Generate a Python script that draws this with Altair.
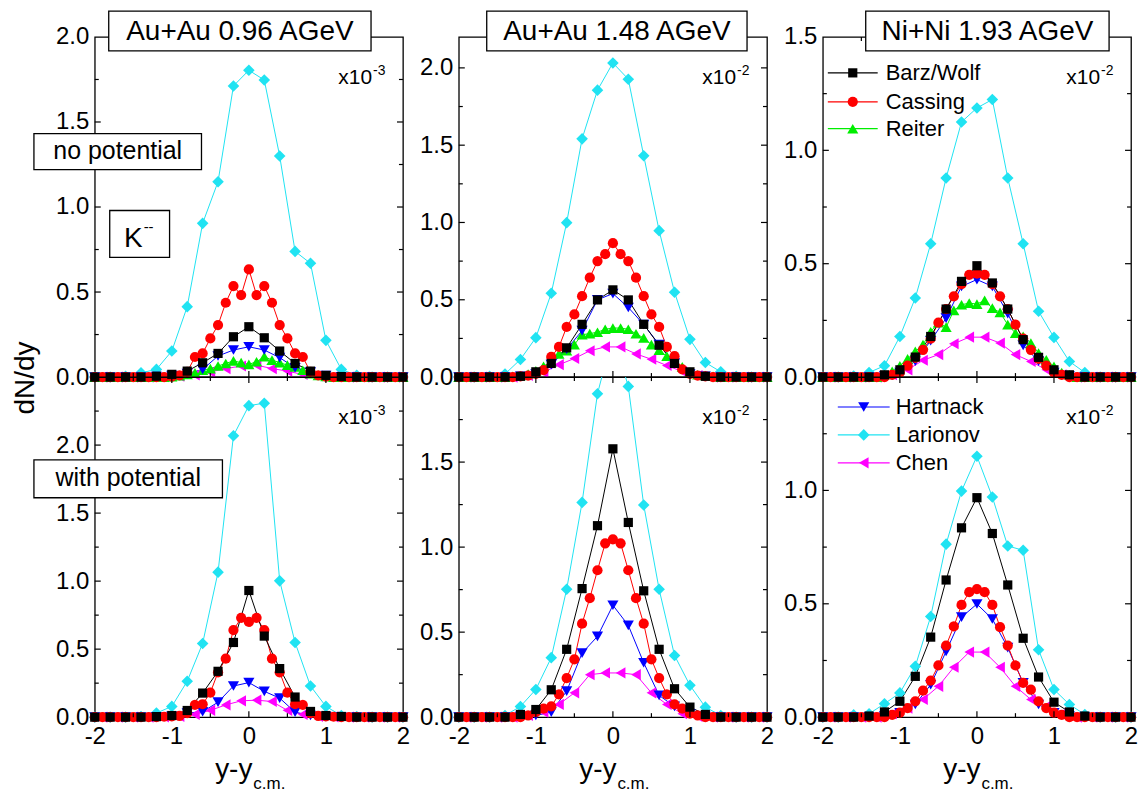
import altair as alt
import pandas as pd

FONT = "Liberation Sans"

# ---------------- rapidity grids ----------------
X_STEP02 = [-2.0, -1.8, -1.6, -1.4, -1.2, -1.0, -0.8, -0.6, -0.4, -0.2, 0.0,
            0.2, 0.4, 0.6, 0.8, 1.0, 1.2, 1.4, 1.6, 1.8, 2.0]
X_STEP01 = [-2.0, -1.9, -1.8, -1.7, -1.6, -1.5, -1.4, -1.3, -1.2, -1.1, -1.0,
            -0.9, -0.8, -0.7, -0.6, -0.5, -0.4, -0.3, -0.2, -0.1, 0.0,
            0.1, 0.2, 0.3, 0.4, 0.5, 0.6, 0.7, 0.8, 0.9, 1.0,
            1.1, 1.2, 1.3, 1.4, 1.5, 1.6, 1.7, 1.8, 1.9, 2.0]
X_ODD = [-1.9, -1.7, -1.5, -1.3, -1.1, -0.9, -0.7, -0.5, -0.3, -0.1,
         0.1, 0.3, 0.5, 0.7, 0.9, 1.1, 1.3, 1.5, 1.7, 1.9]

# ---------------- series meta ----------------
SERIES_NAMES = ["Barz/Wolf", "Cassing", "Reiter", "Hartnack", "Larionov", "Chen"]
SERIES_COLORS = ["#000000", "#ff0000", "#00ee00", "#0000ff", "#20e3f2", "#ff00ff"]
SERIES_SHAPES = ["square", "circle", "triangle-up", "triangle-down", "diamond", "triangle-left"]
SERIES_SIZES = [85, 105, 125, 125, 135, 125]
DRAW_ORDER = ["Larionov", "Chen", "Reiter", "Hartnack", "Cassing", "Barz/Wolf"]
XGRID = {"Barz/Wolf": X_STEP02, "Cassing": X_STEP01, "Reiter": X_STEP01,
         "Hartnack": X_STEP02, "Larionov": X_STEP02, "Chen": X_ODD}

# ---------------- Au+Au 0.96 AGeV, no potential (x10^-3) ----------------
AU096_NOPOT_BARZ = [0, 0, 0, 0, 0.005, 0.016, 0.035, 0.084, 0.139, 0.237, 0.296,
                    0.231, 0.153, 0.08, 0.035, 0.01, 0.003, 0, 0, 0, 0]
AU096_NOPOT_CASSING = [0, 0, 0, 0, 0, 0, 0, 0, 0, 0,
                       0.003, 0.01, 0.03, 0.118, 0.139, 0.227, 0.306, 0.437, 0.535, 0.482,
                       0.633,
                       0.482, 0.535, 0.437, 0.306, 0.227, 0.139, 0.118, 0.03, 0.01, 0.003,
                       0, 0, 0, 0, 0, 0, 0, 0, 0, 0]
AU096_NOPOT_REITER = [0, 0, 0, 0, 0, 0, 0, 0, 0, 0,
                      0.003, 0.008, 0.015, 0.025, 0.04, 0.05, 0.065, 0.08, 0.095, 0.085,
                      0.075,
                      0.09, 0.12, 0.1, 0.085, 0.07, 0.06, 0.04, 0.02, 0.01, 0.004,
                      0, 0, 0, 0, 0, 0, 0, 0, 0, 0]
AU096_NOPOT_HARTNACK = [0, 0, 0, 0, 0.003, 0.008, 0.02, 0.045, 0.124, 0.159, 0.178,
                        0.159, 0.114, 0.055, 0.03, 0.008, 0.002, 0, 0, 0, 0]
AU096_NOPOT_LARIONOV = [0, 0, 0.005, 0.025, 0.045, 0.153, 0.414, 0.904, 1.149, 1.712, 1.804,
                        1.747, 1.300, 0.739, 0.669, 0.216, 0.045, 0.01, 0, 0, 0]
AU096_NOPOT_CHEN = [0, 0, 0, 0, 0.002, 0.005, 0.012, 0.03, 0.05, 0.065,
                    0.07, 0.05, 0.035, 0.015, 0.006, 0.002, 0, 0, 0, 0]

# ---------------- Au+Au 0.96 AGeV, with potential (x10^-3) ----------------
AU096_POT_BARZ = [0, 0, 0, 0, 0.004, 0.012, 0.049, 0.177, 0.337, 0.549, 0.931,
                  0.596, 0.357, 0.148, 0.042, 0.012, 0.005, 0, 0, 0, 0]
AU096_POT_CASSING = [0, 0, 0, 0, 0, 0, 0, 0, 0, 0.003,
                     0.006, 0.01, 0.03, 0.09, 0.095, 0.18, 0.33, 0.43, 0.64, 0.73,
                     0.70,
                     0.73, 0.64, 0.43, 0.33, 0.18, 0.095, 0.09, 0.03, 0.01, 0.006,
                     0.003, 0, 0, 0, 0, 0, 0, 0, 0, 0]
AU096_POT_HARTNACK = [0, 0, 0, 0, 0.002, 0.006, 0.03, 0.04, 0.11, 0.229, 0.254,
                      0.19, 0.14, 0.037, 0.012, 0.004, 0, 0, 0, 0, 0]
AU096_POT_LARIONOV = [0, 0, 0, 0.005, 0.03, 0.079, 0.264, 0.542, 1.066, 2.069, 2.29,
                      2.308, 1.002, 0.549, 0.229, 0.079, 0.012, 0.005, 0, 0, 0]
AU096_POT_CHEN = [0, 0, 0, 0, 0.002, 0.006, 0.02, 0.05, 0.09, 0.12,
                  0.125, 0.115, 0.05, 0.02, 0.006, 0.002, 0, 0, 0, 0]

# ---------------- Au+Au 1.48 AGeV, no potential (x10^-2) ----------------
AU148_NOPOT_BARZ = [0, 0, 0, 0, 0.005, 0.034, 0.088, 0.189, 0.341, 0.499, 0.564,
                    0.499, 0.341, 0.206, 0.088, 0.034, 0.005, 0, 0, 0, 0]
AU148_NOPOT_CASSING = [0, 0, 0, 0, 0, 0, 0, 0, 0.005, 0.01,
                       0.02, 0.045, 0.13, 0.195, 0.324, 0.405, 0.523, 0.643, 0.75, 0.795,
                       0.866,
                       0.795, 0.75, 0.643, 0.523, 0.405, 0.324, 0.195, 0.135, 0.05, 0.02,
                       0.01, 0.005, 0, 0, 0, 0, 0, 0, 0, 0]
AU148_NOPOT_REITER = [0, 0, 0, 0, 0, 0, 0, 0.005, 0.01, 0.02,
                      0.04, 0.07, 0.10, 0.15, 0.17, 0.21, 0.274, 0.281, 0.29, 0.309,
                      0.317,
                      0.317, 0.309, 0.28, 0.253, 0.21, 0.174, 0.135, 0.099, 0.066, 0.03,
                      0.015, 0.01, 0.005, 0, 0, 0, 0, 0, 0, 0]
AU148_NOPOT_HARTNACK = [0, 0, 0, 0, 0.004, 0.02, 0.08, 0.18, 0.30, 0.50, 0.54,
                        0.45, 0.34, 0.21, 0.09, 0.02, 0.004, 0, 0, 0, 0]
AU148_NOPOT_LARIONOV = [0, 0, 0.005, 0.02, 0.114, 0.255, 0.542, 0.999, 1.541, 1.856, 2.032,
                        1.927, 1.432, 0.947, 0.549, 0.244, 0.094, 0.034, 0.005, 0, 0]
AU148_NOPOT_CHEN = [0, 0, 0, 0, 0.01, 0.03, 0.08, 0.12, 0.17, 0.195,
                    0.195, 0.15, 0.115, 0.075, 0.035, 0.01, 0, 0, 0, 0]

# ---------------- Au+Au 1.48 AGeV, with potential (x10^-2) ----------------
AU148_POT_BARZ = [0, 0, 0, 0, 0.016, 0.045, 0.161, 0.399, 0.756, 1.126, 1.578,
                  1.145, 0.743, 0.399, 0.167, 0.059, 0.016, 0, 0, 0, 0]
AU148_POT_CASSING = [0, 0, 0, 0, 0, 0, 0, 0, 0, 0.01,
                     0.03, 0.05, 0.063, 0.134, 0.23, 0.34, 0.55, 0.70, 0.864, 1.022,
                     1.045,
                     1.022, 0.864, 0.70, 0.55, 0.34, 0.23, 0.134, 0.075, 0.05, 0.02,
                     0.01, 0, 0, 0, 0, 0, 0, 0, 0, 0]
AU148_POT_HARTNACK = [0, 0, 0, 0, 0.003, 0.01, 0.03, 0.153, 0.377, 0.475, 0.658,
                      0.54, 0.32, 0.128, 0.063, 0.02, 0.003, 0, 0, 0, 0]
AU148_POT_LARIONOV = [0, 0, 0, 0.01, 0.063, 0.163, 0.35, 0.752, 1.263, 1.902, 2.25,
                      1.945, 1.248, 0.752, 0.363, 0.187, 0.059, 0.01, 0, 0, 0]
AU148_POT_CHEN = [0, 0, 0, 0, 0.01, 0.03, 0.075, 0.143, 0.25, 0.26,
                  0.26, 0.25, 0.143, 0.075, 0.02, 0.005, 0, 0, 0, 0]

# ---------------- Ni+Ni 1.93 AGeV, no potential (x10^-2) ----------------
NI193_NOPOT_BARZ = [0, 0, 0, 0, 0.01, 0.032, 0.088, 0.179, 0.30, 0.422, 0.491,
                    0.415, 0.30, 0.165, 0.087, 0.032, 0.01, 0, 0, 0, 0]
NI193_NOPOT_CASSING = [0, 0, 0, 0, 0, 0, 0, 0, 0, 0.01,
                       0.02, 0.05, 0.085, 0.12, 0.17, 0.24, 0.30, 0.356, 0.41, 0.451,
                       0.456,
                       0.451, 0.41, 0.356, 0.30, 0.231, 0.17, 0.12, 0.08, 0.05, 0.02,
                       0.01, 0, 0, 0, 0, 0, 0, 0, 0, 0]
NI193_NOPOT_REITER = [0, 0, 0, 0, 0, 0, 0, 0, 0.01, 0.025,
                      0.05, 0.08, 0.113, 0.143, 0.20, 0.24, 0.22, 0.294, 0.319, 0.326,
                      0.322,
                      0.338, 0.304, 0.285, 0.231, 0.194, 0.18, 0.15, 0.106, 0.076, 0.047,
                      0.02, 0.01, 0, 0, 0, 0, 0, 0, 0, 0]
NI193_NOPOT_HARTNACK = [0, 0, 0, 0, 0.004, 0.02, 0.07, 0.16, 0.26, 0.40, 0.43,
                        0.40, 0.28, 0.14, 0.07, 0.02, 0.004, 0, 0, 0, 0]
NI193_NOPOT_LARIONOV = [0, 0, 0.005, 0.02, 0.05, 0.179, 0.349, 0.588, 0.878, 1.125, 1.187,
                        1.224, 0.878, 0.588, 0.29, 0.175, 0.069, 0.02, 0, 0, 0]
NI193_NOPOT_CHEN = [0, 0, 0, 0, 0.01, 0.032, 0.074, 0.099, 0.147, 0.176,
                    0.176, 0.15, 0.099, 0.069, 0.032, 0.01, 0, 0, 0, 0]

# ---------------- Ni+Ni 1.93 AGeV, with potential (x10^-2) ----------------
NI193_POT_BARZ = [0, 0, 0, 0.005, 0.023, 0.07, 0.18, 0.353, 0.605, 0.835, 0.968,
                  0.81, 0.583, 0.348, 0.177, 0.066, 0.023, 0.005, 0, 0, 0]
NI193_POT_CASSING = [0, 0, 0, 0, 0, 0, 0, 0, 0, 0.01,
                     0.02, 0.04, 0.07, 0.117, 0.161, 0.228, 0.316, 0.40, 0.495, 0.551,
                     0.565,
                     0.551, 0.495, 0.397, 0.316, 0.228, 0.151, 0.121, 0.07, 0.04, 0.02,
                     0.01, 0, 0, 0, 0, 0, 0, 0, 0, 0]
NI193_POT_HARTNACK = [0, 0, 0, 0, 0.005, 0.019, 0.056, 0.143, 0.29, 0.441, 0.499,
                      0.433, 0.307, 0.151, 0.056, 0.019, 0.005, 0, 0, 0, 0]
NI193_POT_LARIONOV = [0, 0, 0.01, 0.015, 0.059, 0.107, 0.224, 0.444, 0.763, 0.997, 1.151,
                      0.971, 0.755, 0.736, 0.297, 0.122, 0.056, 0.012, 0, 0, 0]
NI193_POT_CHEN = [0, 0, 0, 0, 0.015, 0.04, 0.078, 0.136, 0.22, 0.287,
                  0.287, 0.22, 0.136, 0.078, 0.048, 0.015, 0, 0, 0, 0]

PANELS = {
    (0, 0): {"Barz/Wolf": AU096_NOPOT_BARZ, "Cassing": AU096_NOPOT_CASSING,
             "Reiter": AU096_NOPOT_REITER, "Hartnack": AU096_NOPOT_HARTNACK,
             "Larionov": AU096_NOPOT_LARIONOV, "Chen": AU096_NOPOT_CHEN},
    (0, 1): {"Barz/Wolf": AU148_NOPOT_BARZ, "Cassing": AU148_NOPOT_CASSING,
             "Reiter": AU148_NOPOT_REITER, "Hartnack": AU148_NOPOT_HARTNACK,
             "Larionov": AU148_NOPOT_LARIONOV, "Chen": AU148_NOPOT_CHEN},
    (0, 2): {"Barz/Wolf": NI193_NOPOT_BARZ, "Cassing": NI193_NOPOT_CASSING,
             "Reiter": NI193_NOPOT_REITER, "Hartnack": NI193_NOPOT_HARTNACK,
             "Larionov": NI193_NOPOT_LARIONOV, "Chen": NI193_NOPOT_CHEN},
    (1, 0): {"Barz/Wolf": AU096_POT_BARZ, "Cassing": AU096_POT_CASSING,
             "Hartnack": AU096_POT_HARTNACK, "Larionov": AU096_POT_LARIONOV,
             "Chen": AU096_POT_CHEN},
    (1, 1): {"Barz/Wolf": AU148_POT_BARZ, "Cassing": AU148_POT_CASSING,
             "Hartnack": AU148_POT_HARTNACK, "Larionov": AU148_POT_LARIONOV,
             "Chen": AU148_POT_CHEN},
    (1, 2): {"Barz/Wolf": NI193_POT_BARZ, "Cassing": NI193_POT_CASSING,
             "Hartnack": NI193_POT_HARTNACK, "Larionov": NI193_POT_LARIONOV,
             "Chen": NI193_POT_CHEN},
}

TITLES = ["Au+Au 0.96 AGeV", "Au+Au 1.48 AGeV", "Ni+Ni 1.93 AGeV"]
EXPONENTS = ["-3", "-2", "-2"]
YMAX = [[2.0, 2.2, 1.5], [2.5, 2.0, 1.5]]
YLABELS = [[[0, 0.5, 1.0, 1.5, 2.0], [0, 0.5, 1.0, 1.5, 2.0], [0, 0.5, 1.0, 1.5]],
           [[0, 0.5, 1.0, 1.5, 2.0], [0, 0.5, 1.0, 1.5], [0, 0.5, 1.0]]]
XLABELS = [-2, -1, 0, 1, 2]
X_MAJOR = [-1, 0, 1]
X_MINOR = [-1.5, -0.5, 0.5, 1.5]
Y_MAJOR_ALL = [0.5, 1.0, 1.5, 2.0, 2.5]
Y_MINOR_ALL = [0.25, 0.75, 1.25, 1.75, 2.25]
LEGEND_TOP = ["Barz/Wolf", "Cassing", "Reiter"]
LEGEND_BOTTOM = ["Hartnack", "Larionov", "Chen"]

W, H = 309, 341
MAJ, MINL = 6, 4
XS = alt.Scale(domain=[-2, 2], nice=False, zero=False)
ONE = pd.DataFrame({"k": [0]})


def series_df(pdata):
    rows = []
    for name in DRAW_ORDER:
        if name in pdata:
            xs = XGRID[name]
            vals = pdata[name]
            assert len(xs) == len(vals), (name, len(xs), len(vals))
            for x, v in zip(xs, vals):
                rows.append({"series": name, "x": x, "v": v})
    return pd.DataFrame(rows)


def txt(s, x, y, size, align="center", baseline="alphabetic", angle=0):
    return alt.Chart(ONE).mark_text(
        text=s, font=FONT, fontSize=size, align=align, baseline=baseline,
        angle=angle, color="black"
    ).encode(x=alt.value(x), y=alt.value(y))


def box(x1, x2, y1, y2, sw=1.3):
    return alt.Chart(ONE).mark_rect(fill="white", stroke="black", strokeWidth=sw).encode(
        x=alt.value(x1), x2=alt.value(x2), y=alt.value(y1), y2=alt.value(y2))


def hline(x1, x2, y, color, sw=1.2):
    return alt.Chart(ONE).mark_rule(color=color, strokeWidth=sw).encode(
        x=alt.value(x1), x2=alt.value(x2), y=alt.value(y))


def marker(x, y, name):
    i = SERIES_NAMES.index(name)
    return alt.Chart(ONE).mark_point(
        filled=True, opacity=1, shape=SERIES_SHAPES[i], color=SERIES_COLORS[i],
        size=SERIES_SIZES[i], strokeWidth=0
    ).encode(x=alt.value(x), y=alt.value(y))


def legend(names, x1, x2, xm, xt, ys):
    out = []
    for name, y in zip(names, ys):
        i = SERIES_NAMES.index(name)
        out.append(hline(x1, x2, y, SERIES_COLORS[i], 1.2))
        out.append(marker(xm, y, name))
        out.append(txt(name, xt, y, 22, align="left", baseline="middle"))
    return out


def panel(r, c):
    ymax = YMAX[r][c]
    ys = alt.Scale(domain=[0, ymax], nice=False, zero=False)
    df = series_df(PANELS[(r, c)])
    color = alt.Color("series:N", scale=alt.Scale(domain=SERIES_NAMES, range=SERIES_COLORS), legend=None)
    if r == 1:
        xaxis = alt.Axis(values=XLABELS, labelExpr="datum.value + ''", ticks=False, domain=False,
                         grid=False, labelFont=FONT, labelFontSize=24, labelColor="black",
                         labelPadding=7, labelFlush=False, labelOverlap=False, title=None)
    else:
        xaxis = None
    yaxis = alt.Axis(values=YLABELS[r][c], format=".1f", ticks=False, domain=False, grid=False,
                     labelFont=FONT, labelFontSize=24, labelColor="black", labelPadding=6,
                     labelOverlap=False, title=None)

    def X(field):
        return alt.X(field, scale=XS, axis=xaxis)

    def Y(field):
        return alt.Y(field, scale=ys, axis=yaxis)

    clip = bool(df["v"].max() > ymax)
    layers = [alt.Chart(df).mark_line(strokeWidth=1, clip=clip).encode(
        x=X("x:Q"), y=Y("v:Q"), color=color, detail="series:N")]

    # one marker layer per series, in drawing order
    for name in DRAW_ORDER:
        if name not in PANELS[(r, c)]:
            continue
        i = SERIES_NAMES.index(name)
        layers.append(
            alt.Chart(df).transform_filter(
                f"datum.series == '{name}' && datum.v <= {ymax}"
            ).mark_point(filled=True, opacity=1, strokeWidth=0, shape=SERIES_SHAPES[i],
                         size=SERIES_SIZES[i]).encode(
                x=X("x:Q"), y=Y("v:Q"), color=color))

    # inward ticks on all four sides
    ymaj = [v for v in Y_MAJOR_ALL if v < ymax - 1e-9]
    ymin = [v for v in Y_MINOR_ALL if v < ymax - 1e-9]
    for vals, L in ((X_MAJOR, MAJ), (X_MINOR, MINL)):
        tc = alt.Chart(pd.DataFrame({"t": vals}))
        layers.append(tc.mark_rule(color="black", strokeWidth=1.2).encode(
            x=X("t:Q"), y=alt.value(H), y2=alt.value(H - L)))
        layers.append(tc.mark_rule(color="black", strokeWidth=1.2).encode(
            x=X("t:Q"), y=alt.value(0), y2=alt.value(L)))
    for vals, L in ((ymaj, MAJ), (ymin, MINL)):
        tc = alt.Chart(pd.DataFrame({"t": vals}))
        layers.append(tc.mark_rule(color="black", strokeWidth=1.2).encode(
            y=Y("t:Q"), x=alt.value(0), x2=alt.value(L)))
        layers.append(tc.mark_rule(color="black", strokeWidth=1.2).encode(
            y=Y("t:Q"), x=alt.value(W), x2=alt.value(W - L)))

    # scale factor label
    layers.append(txt("x10", 278, 47, 21, align="right"))
    layers.append(txt(EXPONENTS[c], 279, 38, 14, align="left"))

    if r == 0:
        tb = [(14, 277, 145.5), (28, 289, 158.5), (43, 287, 165)][c]
        layers.append(box(tb[0], tb[1], -26, 14))
        layers.append(txt(TITLES[c], tb[2], 3, 28))
    else:
        layers.append(txt("y-y", 158, H + 61, 28, align="right"))
        layers.append(txt("c.m.", 159, H + 72, 17, align="left"))

    if (r, c) == (0, 0):
        layers.append(alt.Chart(ONE).mark_rect(fill="white", strokeWidth=0).encode(
            x=alt.value(-86), x2=alt.value(-85), y=alt.value(0), y2=alt.value(1)))
        layers.append(box(-61, 107, 97, 133))
        layers.append(txt("no potential", 23, 122, 25))
        layers.append(box(15, 75, 174, 221))
        layers.append(txt("K", 48, 211, 28, align="right"))
        layers.append(txt("--", 49, 196, 15, align="left"))
        layers.append(txt("dN/dy", -69, 342, 28, baseline="middle", angle=270))
    if (r, c) == (1, 0):
        layers.append(box(-61, 128, 83, 121))
        layers.append(txt("with potential", 33.5, 109, 25))
    if (r, c) == (0, 2):
        layers += legend(LEGEND_TOP, 5, 55, 30, 63, [36, 65, 92])
    if (r, c) == (1, 2):
        layers += legend(LEGEND_BOTTOM, 15, 67, 41, 73, [30, 58, 86])

    return alt.layer(*layers).properties(width=W, height=H)


panels = [panel(r, c) for r in range(2) for c in range(3)]
chart = alt.concat(*panels, columns=3, spacing={"row": 0, "column": 56}, bounds="flush").properties(
    padding=0, background="white"
).configure_view(stroke="black", strokeWidth=1.3)

chart.save("out.html", embed_options={"renderer": "svg", "actions": False})
